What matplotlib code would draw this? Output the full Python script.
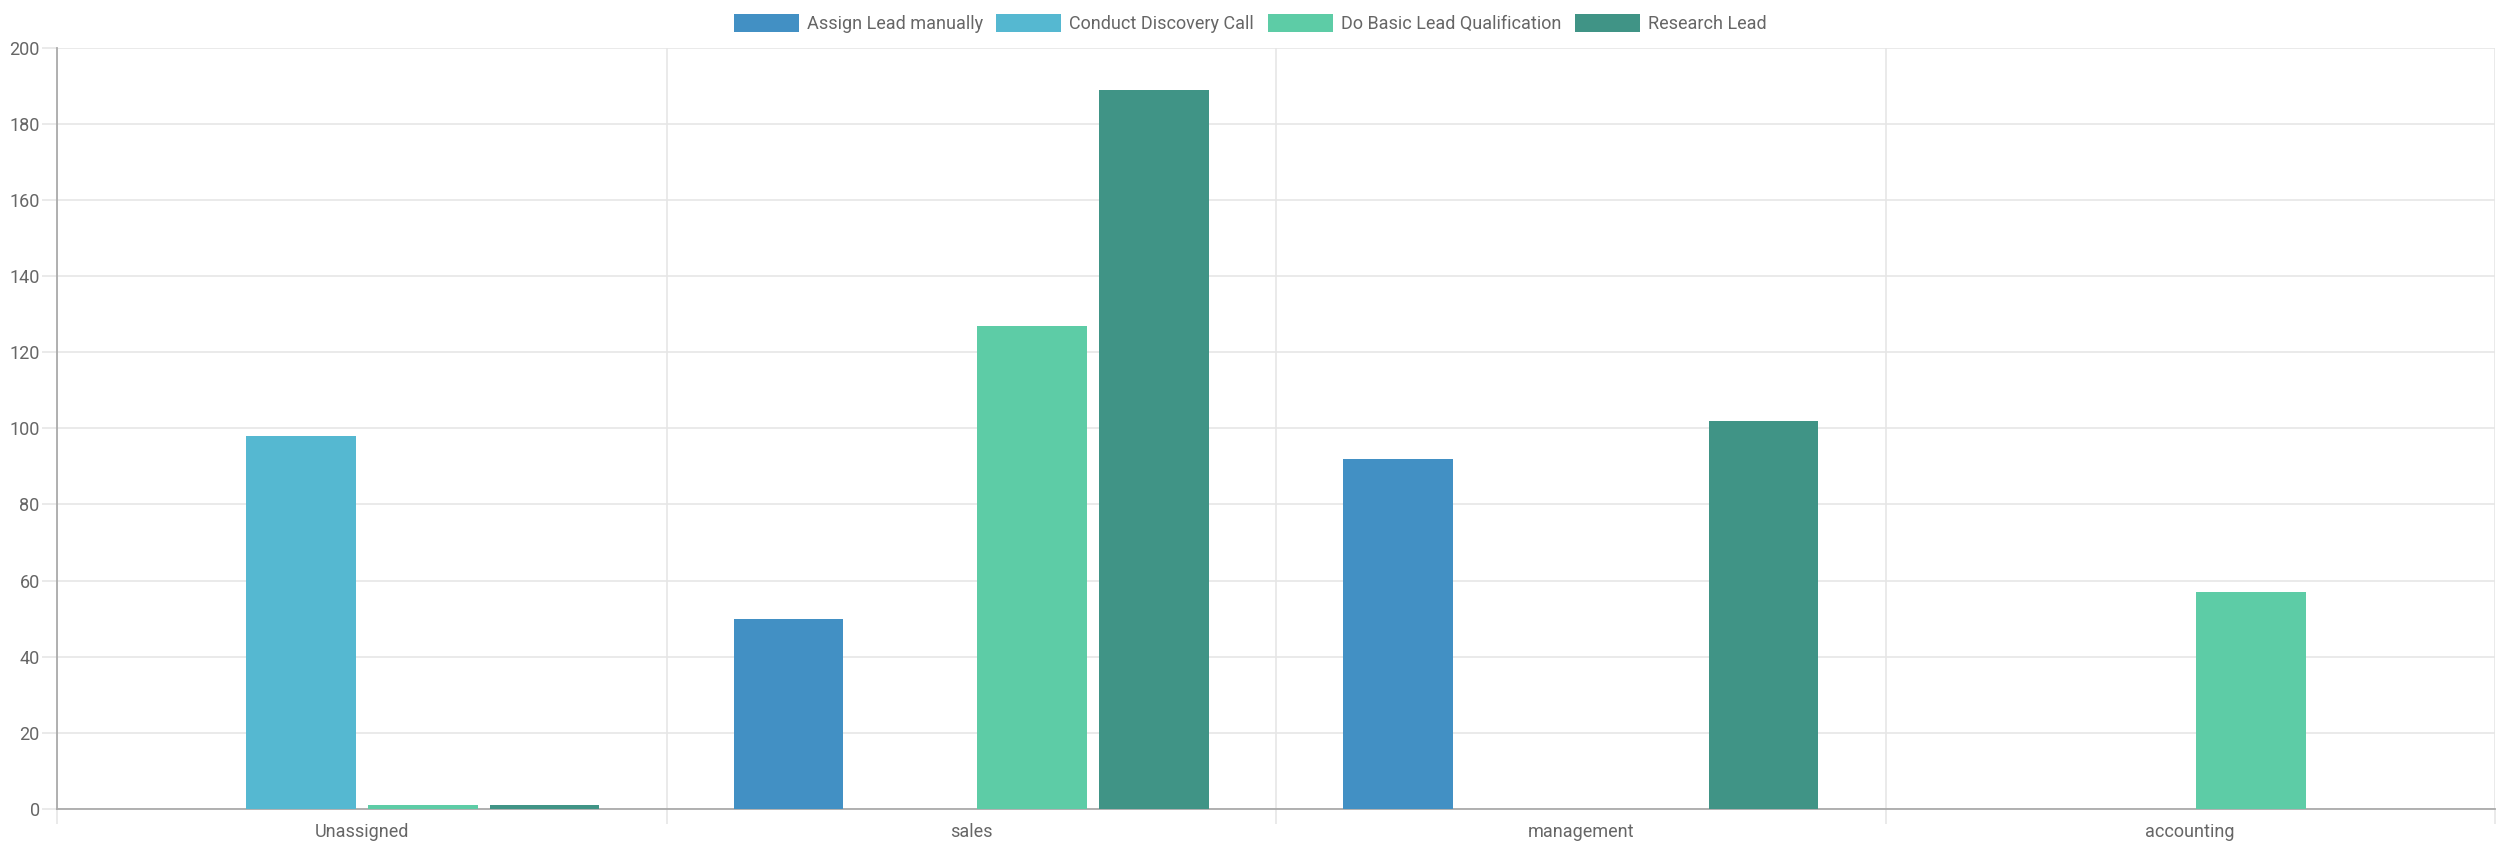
import matplotlib
matplotlib.use("Agg")
import matplotlib.pyplot as plt
import numpy as np

plt.rcParams['font.family'] = ['Roboto', 'DejaVu Sans']

categories = ["Unassigned", "sales", "management", "accounting"]
series_names = ["Assign Lead manually", "Conduct Discovery Call",
                "Do Basic Lead Qualification", "Research Lead"]
assign_lead = [0, 50, 92, 0]
discovery_call = [98, 0, 0, 0]
basic_qualification = [1, 127, 0, 57]
research_lead = [1, 189, 102, 0]
colors = ["#4290c4", "#55b8d1", "#5dcca6", "#409486"]

series = [assign_lead, discovery_call, basic_qualification, research_lead]

fig = plt.figure(figsize=(25, 8.55), dpi=100)
ax = fig.add_axes([0.0228, 0.0541, 0.9752, 0.8898])

x = np.arange(len(categories))
slot = 0.8 / len(series)
for j, (name, vals, c) in enumerate(zip(series_names, series, colors)):
    ax.bar(x + (j - 1.5) * slot, vals, width=slot * 0.9, color=c,
           label=name, zorder=3)

grid_c = "#e6e6e6"
ax.set_xlim(-0.5, len(categories) - 0.5)
ax.set_ylim(0, 200)
ax.set_yticks(range(0, 201, 20))
ax.set_xticks(x)
ax.set_xticklabels(categories)
ax.set_xticks(np.arange(-0.5, len(categories)), minor=True)

ax.yaxis.grid(True, color=grid_c, linewidth=1.2, zorder=0)
ax.xaxis.grid(True, which="minor", color=grid_c, linewidth=1.2, zorder=0)
ax.tick_params(axis="y", length=11, color=grid_c, width=1.2, pad=1.5,
               labelsize=13, labelcolor="#666666")
ax.tick_params(axis="x", which="major", length=0, pad=10.5,
               labelsize=13, labelcolor="#666666")
ax.tick_params(axis="x", which="minor", length=11, color=grid_c, width=1.2)

for s in ["top", "right"]:
    ax.spines[s].set_visible(False)
for s in ["left", "bottom"]:
    ax.spines[s].set_color("#aaaaaa")
    ax.spines[s].set_linewidth(1.3)

fig.legend(loc="upper center", bbox_to_anchor=(0.5, 1.0), ncol=4,
           frameon=False, fontsize=13, labelcolor="#666666",
           handlelength=3.6, handleheight=1.2, handletextpad=0.45,
           columnspacing=0.75, borderaxespad=0.35)

fig.savefig("out.png", dpi=100)
